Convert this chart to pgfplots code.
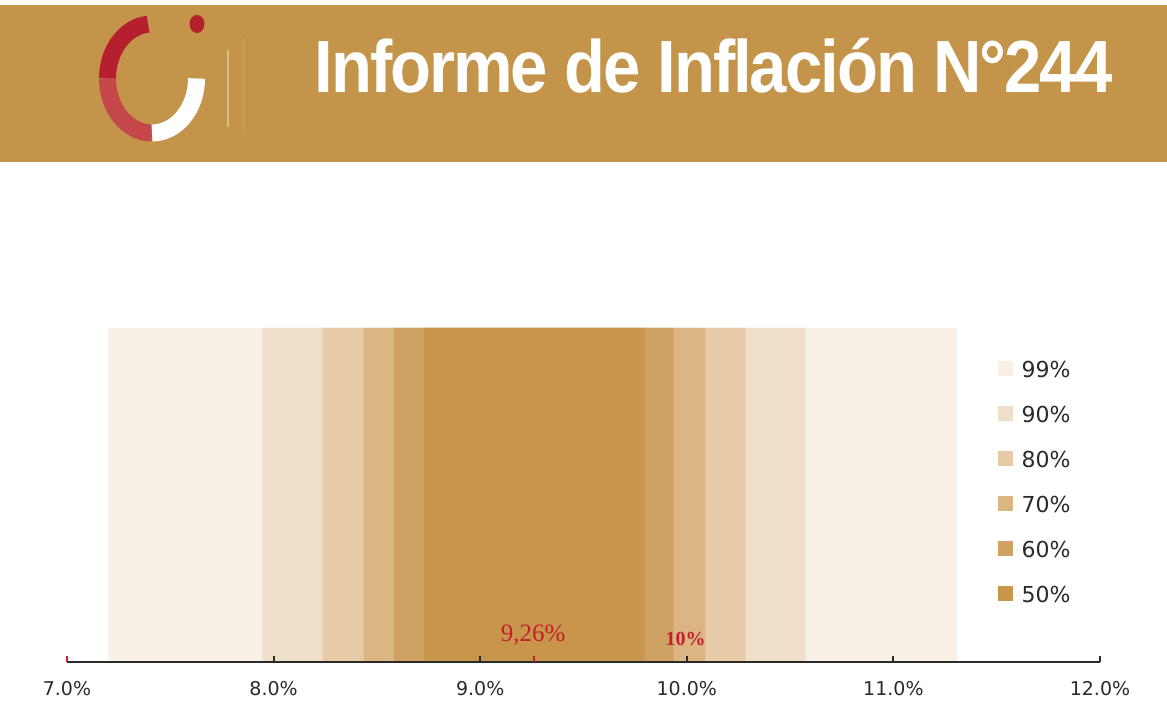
\documentclass[border=0pt]{standalone}
\usepackage{pgfplots}
\pgfplotsset{compat=1.18}
\usepackage{fontspec}
\setmainfont{DejaVu Sans}
\newfontfamily\titlefont[LetterSpace=-3]{Liberation Sans}
\newfontfamily\seriffont{Liberation Serif}
\definecolor{banner}{HTML}{C4944A}
\definecolor{logored}{HTML}{B51F2E}
\definecolor{logored2}{HTML}{C4484A}
\definecolor{logoline}{HTML}{DDBB88}
\definecolor{cA}{HTML}{F8F0E6}
\definecolor{cB}{HTML}{EFDFC9}
\definecolor{cC}{HTML}{E6CBA6}
\definecolor{cD}{HTML}{DBB683}
\definecolor{cE}{HTML}{CFA264}
\definecolor{cF}{HTML}{C8964A}
\definecolor{labred}{HTML}{C41E2E}
\definecolor{txt}{HTML}{2A2A2A}
\begin{document}
\begin{tikzpicture}
\useasboundingbox (0pt,0pt) rectangle (583.5pt,358pt);
% banner
\fill[banner] (0pt,277pt) rectangle (583.5pt,355.5pt);
% logo
\begin{scope}[line width=8.5pt]
\draw[logored] ([shift={(95:22.25pt and 27.25pt)}]76pt,318.75pt) arc[start angle=95,end angle=180,x radius=22.25pt,y radius=27.25pt];
\draw[logored2] ([shift={(180:22.25pt and 27.25pt)}]76pt,318.75pt) arc[start angle=180,end angle=270,x radius=22.25pt,y radius=27.25pt];
\draw[white] ([shift={(270:22.25pt and 27.25pt)}]76pt,318.75pt) arc[start angle=270,end angle=360,x radius=22.25pt,y radius=27.25pt];
\end{scope}
\fill[logored] (98.5pt,346pt) ellipse[x radius=3.75pt,y radius=4.5pt];
\draw[logoline,line width=1pt] (114pt,333pt) -- (114pt,294.5pt);
\draw[logoline!40!banner,line width=0.5pt] (121.5pt,339pt) -- (121.5pt,292pt);
\node[anchor=base west,inner sep=0pt,text=white] at (157pt,311.5pt)
  {\resizebox{399pt}{\height}{\titlefont\fontsize{37pt}{37pt}\selectfont\bfseries Informe de Inflación N°244}};
\begin{axis}[
  at={(33.5pt,27pt)}, anchor=south west,
  scale only axis, width=516.5pt, height=167pt,
  xmin=7, xmax=12, ymin=0, ymax=1,
  axis on top,
  axis x line=bottom, hide y axis,
  axis line style={-, line width=1pt, color=txt},
  tick align=inside, major tick length=3pt,
  major tick style={line width=1pt, color=txt},
  xtick={8,9,10,11,12},
  xticklabels={8.0\%,9.0\%,10.0\%,11.0\%,12.0\%},
  extra x ticks={7,9.26},
  extra x tick labels={7.0\%,{}},
  extra x tick style={major tick style={line width=1pt, color=labred}},
  xticklabel style={font=\fontsize{9.5pt}{9.5pt}\selectfont, text=txt, inner sep=0pt, text height=7pt, text depth=0pt, anchor=north, yshift=-9.5pt},
  legend style={at={(0.901,0.901)}, anchor=north west, draw=none, fill=none,
    inner sep=0pt, outer sep=0pt, row sep=13.5pt,
    font=\fontsize{11pt}{11pt}\selectfont,
    nodes={inner sep=0pt, text height=8pt, text depth=1pt, text=txt}},
  legend cell align=left,
  legend image code/.code={\fill[#1] (0pt,-3pt) rectangle (7.5pt,4.5pt); \path (0pt,0pt) -- (12pt,0pt);},
]
\addplot[fill=cA, draw=none] coordinates {(7.20,0) (7.20,1) (11.31,1) (11.31,0)} \closedcycle;
\addlegendentry{99\%}
\addplot[fill=cB, draw=none] coordinates {(7.946,0) (7.946,1) (10.575,1) (10.575,0)} \closedcycle;
\addlegendentry{90\%}
\addplot[fill=cC, draw=none] coordinates {(8.237,0) (8.237,1) (10.285,1) (10.285,0)} \closedcycle;
\addlegendentry{80\%}
\addplot[fill=cD, draw=none] coordinates {(8.436,0) (8.436,1) (10.09,1) (10.09,0)} \closedcycle;
\addlegendentry{70\%}
\addplot[fill=cE, draw=none] coordinates {(8.583,0) (8.583,1) (9.935,1) (9.935,0)} \closedcycle;
\addlegendentry{60\%}
\addplot[fill=cF, draw=none] coordinates {(8.727,0) (8.727,1) (9.795,1) (9.795,0)} \closedcycle;
\addlegendentry{50\%}
\node[anchor=base, inner sep=0pt, text=labred, font=\seriffont\fontsize{12.5pt}{12.5pt}\selectfont] at (axis cs:9.256,0.06) {9,26\%};
\node[anchor=base, inner sep=0pt, text=labred, font=\seriffont\bfseries\fontsize{10pt}{10pt}\selectfont] at (axis cs:9.994,0.048) {10\%};
\end{axis}
\end{tikzpicture}
\end{document}
